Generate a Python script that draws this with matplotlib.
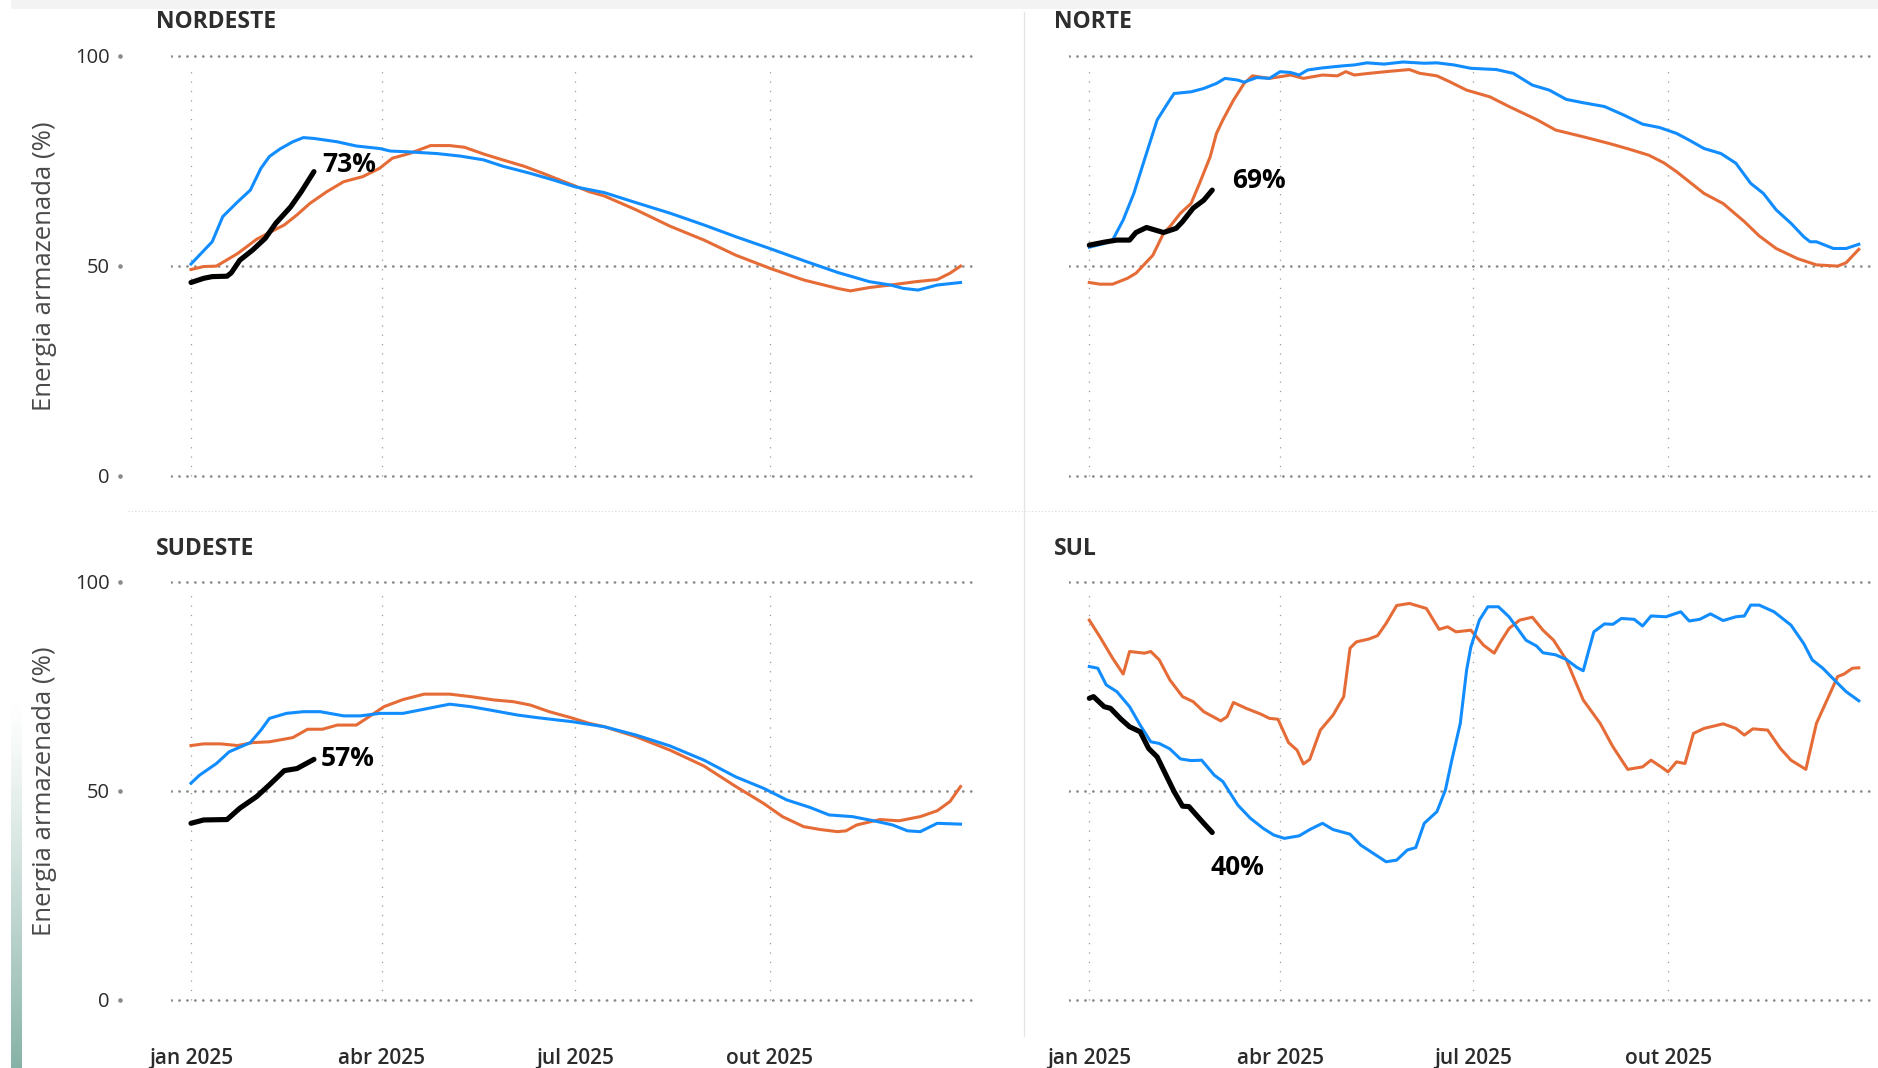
"""Energia armazenada por subsistema: 2023, 2024 e 2025 (até fev)."""

import matplotlib

matplotlib.use("Agg")
import matplotlib.pyplot as plt
import numpy as np
import pandas as pd
from matplotlib.lines import Line2D
from matplotlib.patches import Rectangle

plt.rcParams["font.family"] = ["Open Sans", "DejaVu Sans"]

BLUE = "#118DFF"
ORANGE = "#E66C37"
BLACK = "#000000"

START = pd.Timestamp("2025-01-01")
TICK_DAYS = [0, 90, 181, 273]
TICK_LABELS = ["jan 2025", "abr 2025", "jul 2025", "out 2025"]
Y_TICKS = [0, 50, 100]

# --- NORDESTE ---------------------------------------------------------------
ne_blue_days = [0, 10, 15, 22, 28, 33, 37, 42, 48, 53, 58, 69, 78, 89, 94, 103, 116, 127, 138, 147,
                160, 171, 181, 195, 210, 226, 242, 257, 273, 289, 305, 320, 330, 336, 343, 352, 363]
ne_blue = [50.4, 55.7, 61.7, 65.2, 68.0, 73.2, 76.0, 77.8, 79.5, 80.5, 80.3, 79.5, 78.5, 77.9, 77.3,
           77.1, 76.7, 76.1, 75.2, 73.7, 72.0, 70.4, 68.8, 67.4, 65.0, 62.5, 59.7, 56.9, 54.1, 51.2,
           48.4, 46.2, 45.4, 44.6, 44.2, 45.4, 46.0]
ne_orange_days = [0, 6, 12, 22, 31, 37, 44, 50, 56, 64, 72, 81, 89, 95, 103, 113, 122, 129, 138, 147,
                  157, 166, 176, 188, 195, 210, 226, 242, 257, 273, 289, 305, 311, 320, 330, 342, 352,
                  358, 363]
ne_orange = [49.1, 49.8, 49.9, 52.9, 56.3, 57.9, 59.7, 62.1, 64.8, 67.6, 70.0, 71.2, 73.2, 75.6, 76.7,
             78.6, 78.6, 78.2, 76.6, 75.2, 73.7, 72.0, 70.0, 67.6, 66.6, 63.3, 59.4, 56.1, 52.5, 49.4,
             46.6, 44.6, 44.0, 44.8, 45.4, 46.2, 46.7, 48.2, 49.9]
ne_black_days = [0, 6, 10, 17, 19, 23, 29, 35, 40, 47, 52, 58]
ne_black = [46.0, 47.0, 47.4, 47.5, 48.3, 51.3, 53.7, 56.5, 60.1, 64.0, 67.6, 72.4]

# --- NORTE ------------------------------------------------------------------
n_blue_days = [0, 7, 11, 16, 21, 26, 32, 37, 40, 48, 54, 60, 64, 70, 73, 79, 85, 90, 95, 99, 103, 110,
               120, 125, 131, 139, 148, 158, 164, 172, 180, 192, 200, 209, 217, 225, 233, 243, 252,
               261, 269, 277, 283, 290, 298, 305, 312, 318, 324, 331, 337, 340, 343, 351, 357, 363]
n_blue = [54.4, 55.3, 56.1, 60.9, 67.2, 75.2, 84.7, 88.7, 91.0, 91.4, 92.2, 93.4, 94.6, 94.2, 93.7,
          94.8, 94.6, 96.2, 96.0, 95.4, 96.6, 97.1, 97.6, 97.8, 98.3, 98.0, 98.5, 98.2, 98.3, 97.8,
          97.0, 96.7, 95.8, 93.0, 91.8, 89.6, 88.8, 87.9, 85.9, 83.7, 82.9, 81.5, 79.9, 77.9, 76.7,
          74.4, 69.6, 67.2, 63.3, 60.1, 56.9, 55.7, 55.7, 54.1, 54.1, 55.1]
n_orange_days = [0, 5, 11, 18, 22, 30, 35, 38, 43, 48, 52, 57, 60, 63, 68, 73, 77, 85, 90, 95, 101,
                 110, 117, 121, 125, 132, 142, 151, 156, 164, 170, 178, 189, 198, 211, 220, 233, 246,
                 255, 264, 271, 277, 283, 290, 299, 309, 316, 324, 334, 343, 353, 357, 363]
n_orange = [46.0, 45.6, 45.6, 47.0, 48.2, 52.5, 57.7, 59.3, 62.5, 64.8, 69.6, 75.9, 81.5, 84.7, 89.4,
            93.4, 95.2, 94.6, 95.0, 95.4, 94.6, 95.4, 95.2, 96.2, 95.4, 95.8, 96.3, 96.7, 95.8, 95.2,
            93.8, 91.8, 90.2, 87.9, 84.8, 82.3, 80.7, 79.0, 77.7, 76.3, 74.5, 72.4, 70.0, 67.2, 64.8,
            60.5, 57.1, 54.1, 51.7, 50.2, 49.9, 50.7, 53.9]
n_black_days = [0, 7, 13, 19, 22, 27, 35, 41, 44, 49, 54, 58]
n_black = [54.9, 55.6, 56.1, 56.1, 57.9, 59.1, 57.9, 58.9, 60.5, 63.7, 65.6, 68.0]

# --- SUDESTE ----------------------------------------------------------------
se_blue_days = [0, 4, 12, 18, 28, 33, 37, 45, 53, 61, 72, 80, 89, 100, 110, 122, 132, 141, 154, 163,
                173, 180, 195, 210, 226, 242, 257, 270, 281, 292, 301, 312, 323, 331, 338, 344, 352, 363]
se_blue = [51.8, 53.7, 56.5, 59.3, 61.5, 64.5, 67.3, 68.5, 68.9, 68.9, 67.9, 67.9, 68.5, 68.5, 69.5,
           70.7, 70.1, 69.3, 68.1, 67.5, 66.9, 66.5, 65.3, 63.3, 60.7, 57.3, 53.3, 50.6, 47.8, 46.0,
           44.2, 43.8, 42.7, 41.8, 40.4, 40.2, 42.2, 42.0]
se_orange_days = [0, 6, 14, 22, 29, 37, 48, 55, 62, 69, 78, 84, 91, 100, 110, 122, 132, 143, 152, 160,
                  169, 179, 188, 195, 210, 226, 242, 257, 270, 279, 289, 297, 305, 309, 314, 325, 334,
                  344, 352, 358, 363]
se_orange = [60.8, 61.2, 61.2, 60.8, 61.5, 61.7, 62.7, 64.7, 64.7, 65.7, 65.7, 67.7, 70.1, 71.8, 73.1,
             73.1, 72.5, 71.7, 71.3, 70.5, 68.9, 67.5, 66.1, 65.3, 62.9, 59.7, 55.9, 51.0, 47.0, 43.8,
             41.4, 40.7, 40.2, 40.4, 41.8, 43.1, 42.8, 43.8, 45.2, 47.4, 51.0]
se_black_days = [0, 6, 17, 23, 31, 37, 44, 50, 58]
se_black = [42.2, 43.0, 43.1, 45.8, 48.6, 51.4, 54.8, 55.3, 57.5]

# --- SUL --------------------------------------------------------------------
s_blue_days = [0, 4, 8, 13, 19, 24, 29, 33, 38, 43, 48, 53, 59, 63, 70, 76, 82, 87, 92, 99, 104, 110,
               115, 123, 128, 134, 140, 145, 150, 154, 158, 164, 168, 171, 175, 178, 180, 184, 188,
               193, 198, 206, 211, 214, 220, 225, 230, 233, 238, 243, 247, 251, 257, 261, 265, 272,
               279, 283, 288, 293, 299, 305, 309, 312, 316, 323, 331, 337, 341, 346, 353, 357, 363]
s_blue = [79.7, 79.3, 75.3, 73.7, 70.1, 65.7, 61.7, 61.3, 60.0, 57.6, 57.2, 57.3, 53.7, 52.2, 46.6,
          43.4, 41.0, 39.4, 38.6, 39.2, 40.7, 42.2, 40.7, 39.6, 37.0, 35.0, 33.0, 33.4, 35.8, 36.4,
          42.2, 45.0, 50.2, 57.3, 66.1, 78.9, 84.4, 90.8, 94.0, 94.0, 91.6, 86.0, 84.6, 83.0, 82.5,
          81.4, 79.5, 78.7, 88.0, 89.9, 89.8, 91.2, 91.0, 89.4, 91.8, 91.6, 92.8, 90.6, 91.0, 92.3,
          90.7, 91.6, 91.8, 94.4, 94.4, 92.8, 89.6, 85.2, 81.3, 79.3, 75.7, 73.7, 71.5]
s_orange_days = [0, 5, 11, 16, 19, 26, 29, 33, 38, 44, 49, 54, 62, 65, 68, 74, 81, 85, 89, 94, 98,
                 101, 104, 109, 115, 120, 123, 126, 132, 136, 140, 145, 151, 159, 165, 169, 173, 180,
                 186, 191, 194, 198, 203, 209, 214, 219, 225, 233, 241, 247, 254, 261, 265, 270, 273,
                 277, 281, 285, 290, 299, 305, 309, 313, 320, 326, 331, 338, 343, 348, 353, 356, 360, 363]
s_orange = [90.8, 86.8, 81.7, 77.9, 83.3, 82.9, 83.3, 81.3, 76.5, 72.5, 71.3, 68.9, 66.7, 67.7, 71.1,
            69.7, 68.3, 67.3, 67.1, 61.5, 59.7, 56.4, 57.5, 64.5, 68.1, 72.5, 84.1, 85.6, 86.3, 87.1,
            90.0, 94.3, 94.8, 93.6, 88.6, 89.2, 88.0, 88.4, 84.8, 82.9, 85.6, 88.8, 90.8, 91.5, 88.4,
            86.0, 81.3, 71.7, 66.1, 60.5, 55.1, 55.7, 57.3, 55.6, 54.5, 56.9, 56.5, 63.7, 64.9, 66.0,
            64.9, 63.3, 64.8, 64.5, 60.1, 57.3, 55.1, 66.1, 71.7, 77.3, 77.9, 79.3, 79.4]
s_black_days = [0, 2, 7, 10, 15, 19, 24, 28, 32, 37, 40, 44, 47, 51, 54, 58]
s_black = [72.1, 72.5, 70.1, 69.7, 67.1, 65.3, 64.1, 60.1, 58.1, 52.9, 49.8, 46.3, 46.2, 43.9, 42.2, 40.0]

# last-value annotations: (day, y, text)
ne_note = (62, 74.0, "73%")
n_note = (67.5, 70.4, "69%")
se_note = (61.3, 57.6, "57%")
s_note = (57, 31.7, "40%")


W, H = 1878, 1068


def px_box(left, top, right, bottom):
    return [left / W, 1 - bottom / H, (right - left) / W, (bottom - top) / H]


def to_dates(days):
    return START + pd.to_timedelta(np.asarray(days, dtype=float), unit="D")


fig = plt.figure(figsize=(W / 100, H / 100), dpi=100)
fig.patch.set_facecolor("white")

panels = [
    ("NORDESTE", px_box(171, 51.5, 976, 479.9), (156, 22), True, False,
     (ne_blue_days, ne_blue), (ne_orange_days, ne_orange), (ne_black_days, ne_black), ne_note),
    ("NORTE", px_box(1069.3, 51.5, 1874.3, 479.9), (1054, 22), False, False,
     (n_blue_days, n_blue), (n_orange_days, n_orange), (n_black_days, n_black), n_note),
    ("SUDESTE", px_box(171, 577.5, 976, 1003.9), (156, 549), True, True,
     (se_blue_days, se_blue), (se_orange_days, se_orange), (se_black_days, se_black), se_note),
    ("SUL", px_box(1069.3, 577.5, 1874.3, 1003.9), (1054, 549), False, True,
     (s_blue_days, s_blue), (s_orange_days, s_orange), (s_black_days, s_black), s_note),
]

xlim = (START - pd.Timedelta(days=9.43), START + pd.Timedelta(days=370.3))
tick_dates = to_dates(TICK_DAYS)

for title, box, title_xy, show_y, show_x, blue, orange, black, note in panels:
    ax = fig.add_axes(box)
    ax.set_xlim(*xlim)
    ax.set_ylim(-1, 101)
    for s in ax.spines.values():
        s.set_visible(False)

    # gridlines: heavy dotted horizontals, fine dotted verticals
    for v in Y_TICKS:
        ax.axhline(v, color="#8a8a8a", lw=1.9, ls=(0, (0.1, 2.9)),
                   dash_capstyle="round", zorder=1)
    for d in tick_dates:
        ax.axvline(d, ymin=1 / 102, ymax=99 / 102, color="#9a9a9a", lw=0.9,
                   ls=(0, (1, 6.5)), zorder=1)

    ax.plot(to_dates(orange[0]), orange[1], color=ORANGE, lw=2.2, zorder=3)
    ax.plot(to_dates(blue[0]), blue[1], color=BLUE, lw=2.2, zorder=4)
    ax.plot(to_dates(black[0]), black[1], color=BLACK, lw=3.7, zorder=5,
            solid_capstyle="round")

    nd, ny, ntext = note
    ax.text(to_dates([nd])[0], ny, ntext, fontsize=19, fontweight="bold",
            color="black", ha="left", va="center", zorder=6)

    ax.set_xticks(tick_dates)
    ax.set_xticklabels(TICK_LABELS)
    ax.tick_params(axis="x", length=0, pad=31.5, labelsize=15, labelcolor="#2b2b2b",
                   labelbottom=show_x)
    for lbl in ax.get_xticklabels():
        lbl.set_fontweight("semibold")

    ax.set_yticks(Y_TICKS)
    ax.tick_params(axis="y", length=0, pad=44, labelsize=14.5, labelcolor="#2b2b2b",
                   labelleft=show_y)
    if show_y:
        ax.set_ylabel("Energia armazenada (%)", fontsize=18.5, color="#4a4a4a")
        ax.yaxis.set_label_coords(-0.1416, 0.5)
        # small axis dots next to the tick labels
        ax.plot([-0.0634] * len(Y_TICKS), Y_TICKS, transform=ax.get_yaxis_transform(),
                ls="none", marker="o", ms=2.3, color="#8a8a8a", clip_on=False)

    fig.text(title_xy[0] / W, 1 - title_xy[1] / H, title, fontsize=16.5, fontweight="bold",
             color="#2e2e2e", ha="left", va="center")

# panel separators
fig.add_artist(Line2D([128 / W, 1], [1 - 511 / H] * 2, color="#d9d9d9", lw=0.8,
                      ls=(0, (1, 2)), transform=fig.transFigure))
fig.add_artist(Line2D([1024 / W] * 2, [1 - 12 / H, 1 - 1036 / H], color="#e4e4e4", lw=0.9,
                      transform=fig.transFigure))

# light band along the top edge
fig.add_artist(Rectangle((11 / W, 1 - 9 / H), 1, 9 / H, transform=fig.transFigure,
                         facecolor="#f3f3f3", edgecolor="none"))

# teal fade strip at bottom-left
strip = fig.add_axes(px_box(11, 700, 22, 1068))
grad = np.linspace(0, 1, 256)[:, None]
rgba = np.zeros((256, 1, 4))
rgba[..., 0] = 0x86 / 255
rgba[..., 1] = 0xb2 / 255
rgba[..., 2] = 0xa6 / 255
rgba[..., 3] = grad ** 1.2
strip.imshow(rgba, aspect="auto", extent=(0, 1, 0, 1), origin="upper")
strip.axis("off")

fig.savefig("out.png", dpi=100)
